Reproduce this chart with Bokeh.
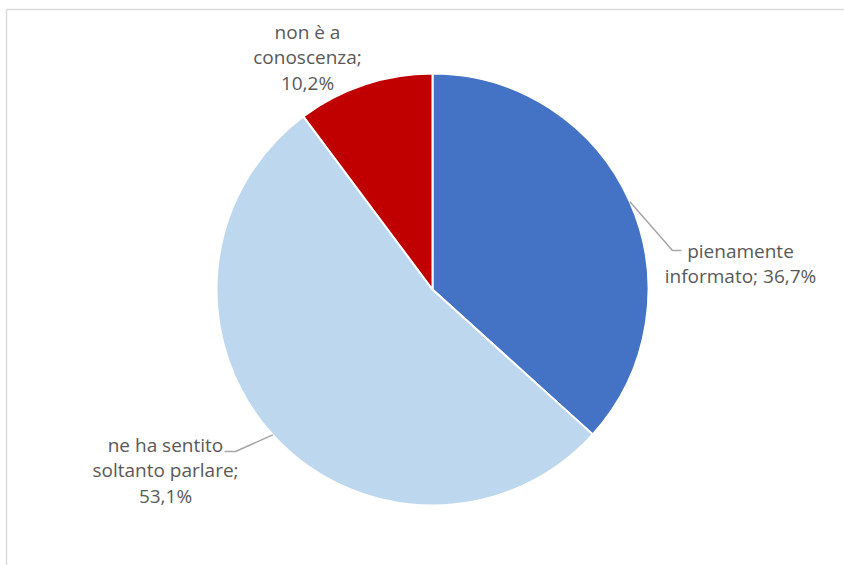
import math
from bokeh.plotting import figure
from bokeh.models import Range1d, ColumnDataSource
from bokeh.embed import file_html
from bokeh.resources import INLINE
from bokeh.core.properties import value

categories = ["pienamente informato", "ne ha sentito soltanto parlare", "non è a conoscenza"]
label_texts = ["pienamente\ninformato; 36,7%", "ne ha sentito\nsoltanto parlare;\n53,1%", "non è a\nconoscenza;\n10,2%"]
shares = [36.7, 53.1, 10.2]
colors = ["#4472C4", "#BDD7EE", "#C00000"]

W, H = 844, 565
cx, cy, R = 432, H - 289, 216

p = figure(width=W, height=H, output_backend="svg", toolbar_location=None,
           x_range=Range1d(0, W), y_range=Range1d(0, H), min_border=0)
p.axis.visible = False
p.grid.visible = False
p.outline_line_color = None
p.background_fill_color = "white"

# chart border (frame)
p.segment(x0=[6, 6], y0=[H - 9, H - 9], x1=[W + 5, 6], y1=[H - 9, -5],
          line_color="#D9D9D9", line_width=1.5)

total = sum(shares)
starts, ends, mids = [], [], []
acc = 0.0
for s in shares:
    a0 = math.pi / 2 - 2 * math.pi * acc / total
    acc += s
    a1 = math.pi / 2 - 2 * math.pi * acc / total
    starts.append(a0)
    ends.append(a1)
    mids.append((a0 + a1) / 2)

src = ColumnDataSource(dict(start=starts, end=ends, color=colors, cat=categories))
p.wedge(x=cx, y=cy, radius=R, start_angle="start", end_angle="end", direction="clock",
        fill_color="color", line_color="white", line_width=2, source=src)

# leader lines
def edge(a, r=R):
    return cx + r * math.cos(a), cy + r * math.sin(a)

x0, y0 = edge(mids[0])
p.line([x0, 672, 681], [y0, H - 250, H - 250], line_color="#A6A6A6", line_width=1.5)
x1, y1 = edge(mids[1])
p.line([x1, 235, 224], [y1, H - 451, H - 451], line_color="#A6A6A6", line_width=1.5)

lab_x = [740, 165, 307]
lab_y = [H - 263, H - 470, H - 57]
p.text(x=lab_x, y=lab_y, text=label_texts, text_align="center", text_baseline="middle",
       text_font=value("Open Sans"), text_font_size="19px", text_color="#595959",
       text_line_height=0.97)

open("out.html", "w").write(file_html(p, INLINE))
